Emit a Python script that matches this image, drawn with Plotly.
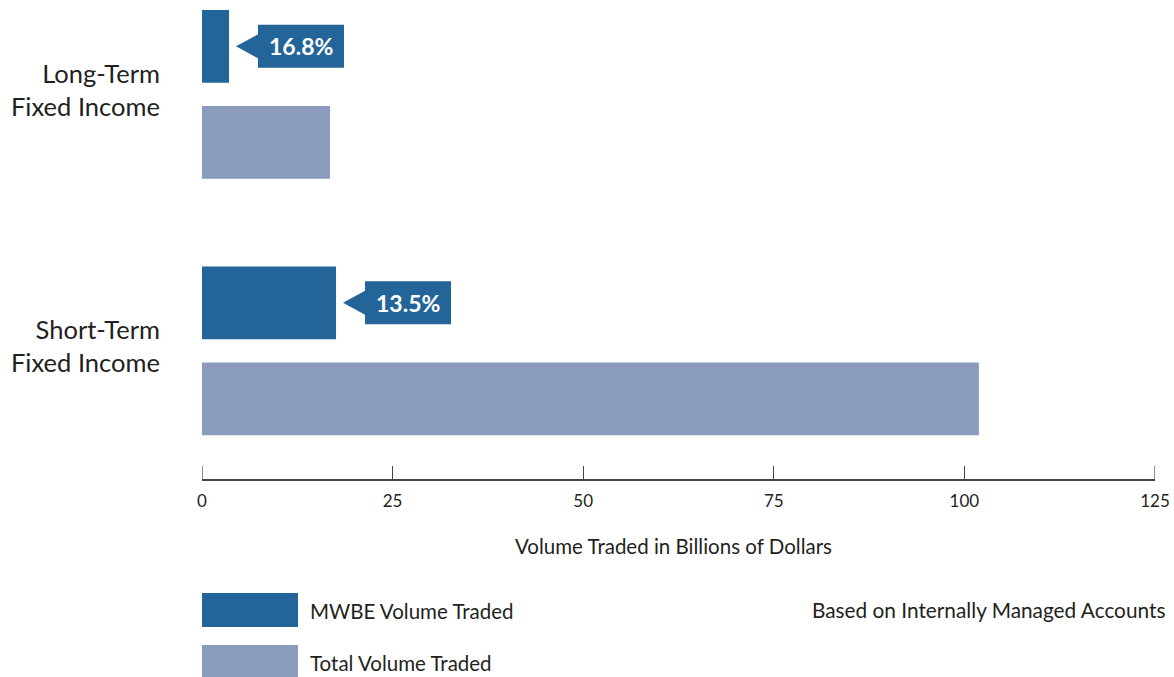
import plotly.graph_objects as go

# ---- data ----
categories = ["Long-Term<br>Fixed Income", "Short-Term<br>Fixed Income"]
mwbe_volume = [3.54, 17.58]       # billions of dollars
total_volume = [16.79, 101.9]     # billions of dollars
mwbe_share_labels = ["16.8%", "13.5%"]
x_ticks = [0, 25, 50, 75, 100, 125]
series_names = ["MWBE Volume Traded", "Total Volume Traded"]

# ---- styles ----
DARK = "#236598"
LIGHT = "#8A9BBD"
TXT = "#231F20"
AX = "#444444"
FONT = "Lato"
BARGAP = 0.2515
BARGROUPGAP = 0.2427
mwbe_offset = (1 - BARGAP) / 4  # center of upper bar within the group

fig = go.Figure()
fig.add_trace(go.Bar(y=categories, x=total_volume, orientation="h",
                     marker=dict(color=LIGHT, line=dict(width=0)),
                     name=series_names[1], showlegend=False, hoverinfo="x"))
fig.add_trace(go.Bar(y=categories, x=mwbe_volume, orientation="h",
                     marker=dict(color=DARK, line=dict(width=0)),
                     name=series_names[0], showlegend=False, hoverinfo="x"))

order = categories[::-1]  # bottom to top
shapes = []
annotations = []
for cat, val, lab in zip(categories, mwbe_volume, mwbe_share_labels):
    idx = order.index(cat)
    yc = idx + mwbe_offset
    shapes.append(dict(type="path", xref="x", yref="y",
                       xsizemode="pixel", ysizemode="pixel",
                       xanchor=val, yanchor=yc,
                       path="M 7 0 L 29 12 L 29 21.5 L 115 21.5 L 115 -21.5 L 29 -21.5 L 29 -12 Z",
                       fillcolor=DARK, line=dict(width=0)))
    annotations.append(dict(x=val, y=yc, xref="x", yref="y", text="<b>%s</b>" % lab,
                            showarrow=False, xanchor="center", yanchor="middle",
                            xshift=72, font=dict(family=FONT, size=23, color="white")))
    # category labels
    annotations.append(dict(x=0, y=idx, xref="paper", yref="y", text=cat,
                            showarrow=False, xanchor="right", yanchor="middle", align="right",
                            xshift=-40, yshift=5,
                            font=dict(family=FONT, size=25.5, color=TXT)))

# end ticks of the axis (make sure they show)
for tv in (x_ticks[0], x_ticks[-1]):
    shapes.append(dict(type="line", xref="x", yref="paper", ysizemode="pixel", yanchor=0,
                       x0=tv, x1=tv, y0=0, y1=13, line=dict(color=AX, width=1.2)))

# legend swatches (manual)
for name, color, top in zip(series_names, [DARK, LIGHT], [-114, -166]):
    shapes.append(dict(type="rect", xref="paper", yref="paper",
                       xsizemode="pixel", ysizemode="pixel", xanchor=0, yanchor=0,
                       x0=0, x1=96, y0=top, y1=top - 34,
                       fillcolor=color, line=dict(width=0)))
    annotations.append(dict(x=0, y=0, xref="paper", yref="paper", text=name,
                            showarrow=False, xanchor="left", yanchor="middle",
                            xshift=106, yshift=top - 17.5,
                            font=dict(family=FONT, size=20.5, color=TXT)))

annotations.append(dict(x=1, y=0, xref="paper", yref="paper",
                        text="Based on Internally Managed Accounts",
                        showarrow=False, xanchor="right", yanchor="middle",
                        xshift=12, yshift=-130,
                        font=dict(family=FONT, size=20.8, color=TXT)))
annotations.append(dict(x=0.5, y=0, xref="paper", yref="paper",
                        text="Volume Traded in Billions of Dollars",
                        showarrow=False, xanchor="center", yanchor="middle",
                        xshift=-5, yshift=-67,
                        font=dict(family=FONT, size=20.5, color=TXT)))

fig.update_layout(
    width=1174, height=677,
    margin=dict(l=202, r=19, t=0, b=198),
    paper_bgcolor="white", plot_bgcolor="white",
    barmode="group", bargap=BARGAP, bargroupgap=BARGROUPGAP,
    shapes=shapes, annotations=annotations,
    font=dict(family=FONT, color=TXT),
    xaxis=dict(range=[0, 125], tickvals=x_ticks, showgrid=False, zeroline=False,
               showline=True, linecolor=AX, linewidth=1.5,
               ticks="inside", ticklen=13, tickwidth=1.2, tickcolor=AX,
               tickfont=dict(family=FONT, size=17, color=TXT),
               ticklabelstandoff=6, fixedrange=True),
    yaxis=dict(categoryorder="array", categoryarray=order, range=[-0.4996, 1.3678],
               showticklabels=False, showgrid=False, zeroline=False, showline=False,
               ticks="", fixedrange=True),
)

fig.write_html("out.html", config={"displayModeBar": False},
               post_script="document.body.style.margin='0';document.body.style.overflow='hidden';")
